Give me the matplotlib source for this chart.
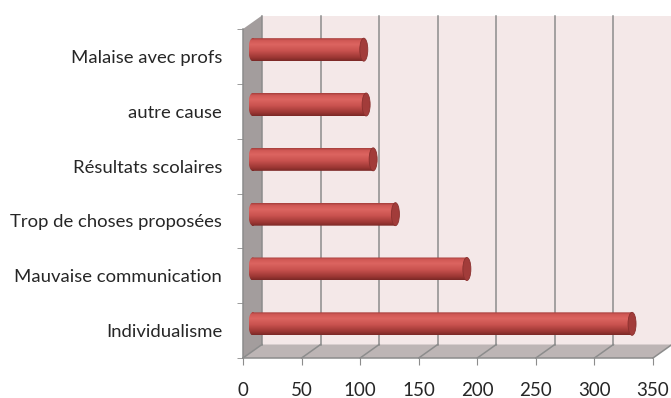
import numpy as np
import matplotlib
matplotlib.use("Agg")
import matplotlib.pyplot as plt
from matplotlib.patches import Polygon, Ellipse, Rectangle, PathPatch
from matplotlib.path import Path
from matplotlib.colors import LinearSegmentedColormap

plt.rcParams['font.family'] = ['Lato', 'DejaVu Sans']

categories = ["Individualisme", "Mauvaise communication", "Trop de choses proposées",
              "Résultats scolaires", "autre cause", "Malaise avec profs"]
values = [324, 183, 122, 103, 97, 95]
xticks = [0, 50, 100, 150, 200, 250, 300, 350]

W, H = 671, 398
fig = plt.figure(figsize=(W / 100, H / 100), dpi=100)
# front plane of the 3d box
ax = fig.add_axes([243 / W, 40 / H, 410 / W, 329 / H])
xmax, n = 350, len(categories)
ax.set_xlim(0, xmax)
ax.set_ylim(0, n)

# depth offset of the back wall, in data units
dx = 19 * xmax / 410
dy = 13.5 * n / 329

wall = "#F4E8E8"
floor = "#BDB5B5"
side = "#A39D9D"
grid = "#8C8C8C"

ax.add_patch(Polygon([(dx, dy), (xmax + dx, dy), (xmax + dx, n + dy), (dx, n + dy)],
                     closed=True, fc=wall, ec="none", clip_on=False, zorder=0))
ax.add_patch(Polygon([(0, 0), (xmax, 0), (xmax + dx, dy), (dx, dy)],
                     closed=True, fc=floor, ec="none", clip_on=False, zorder=0))
ax.add_patch(Polygon([(0, 0), (dx, dy), (dx, n + dy), (0, n)],
                     closed=True, fc=side, ec="none", clip_on=False, zorder=0))

for v in xticks:
    ax.plot([v + dx, v + dx], [dy, n + dy], color=grid, lw=1.1, clip_on=False, zorder=1)
    ax.plot([v, v + dx], [0, dy], color=grid, lw=1.1, clip_on=False, zorder=1)
ax.plot([0, xmax], [0, 0], color=grid, lw=1.1, clip_on=False, zorder=2)
ax.plot([0, 0], [0, n], color=grid, lw=1.1, clip_on=False, zorder=2)

# cylinders
cmap = LinearSegmentedColormap.from_list("cyl", [
    (0.0, "#7A2826"), (0.15, "#9C3734"), (0.45, "#C9524F"),
    (0.72, "#DC6460"), (0.9, "#D05855"), (1.0, "#A53E3B")])
grad = np.linspace(0, 1, 120).reshape(-1, 1)
bh = 23 * n / 329
a = 4 * xmax / 410

for i, v in enumerate(values):
    yc = i + 0.5 + dy / 2
    x0, x1 = dx / 2, v + dx / 2
    rect = Rectangle((x0, yc - bh / 2), x1 - x0, bh)
    body = rect.get_path().transformed(rect.get_patch_transform())
    left = Ellipse((x0, yc), 2 * a, bh)
    lpath = left.get_path().transformed(left.get_patch_transform())
    clip = PathPatch(Path.make_compound_path(body, lpath), transform=ax.transData,
                     fc="none", ec="none")
    ax.add_patch(clip)
    im = ax.imshow(grad, cmap=cmap, origin="lower", aspect="auto",
                   extent=[x0 - a, x1, yc - bh / 2, yc + bh / 2], zorder=3)
    im.set_clip_path(clip)
    ax.add_patch(Ellipse((x1, yc), 2 * a, bh, fc="#A23C3A", ec="#8A302E", lw=0.6,
                         zorder=4, clip_on=False))

ax.set_xlim(0, xmax)
ax.set_ylim(0, n)

for s in ax.spines.values():
    s.set_visible(False)
ax.set_xticks(xticks)
ax.set_xticklabels([str(t) for t in xticks])
ax.tick_params(axis="x", length=5, color=grid, pad=12, labelsize=13.5, labelcolor="#262626")
ax.set_yticks(np.arange(n) + 0.5)
ax.set_yticklabels(categories)
ax.tick_params(axis="y", length=0, pad=15, labelsize=13.3, labelcolor="#262626")
ax.set_yticks(np.arange(n + 1), minor=True)
ax.tick_params(axis="y", which="minor", length=4.5, color=grid)

fig.savefig("out.png", dpi=100, facecolor="white")
